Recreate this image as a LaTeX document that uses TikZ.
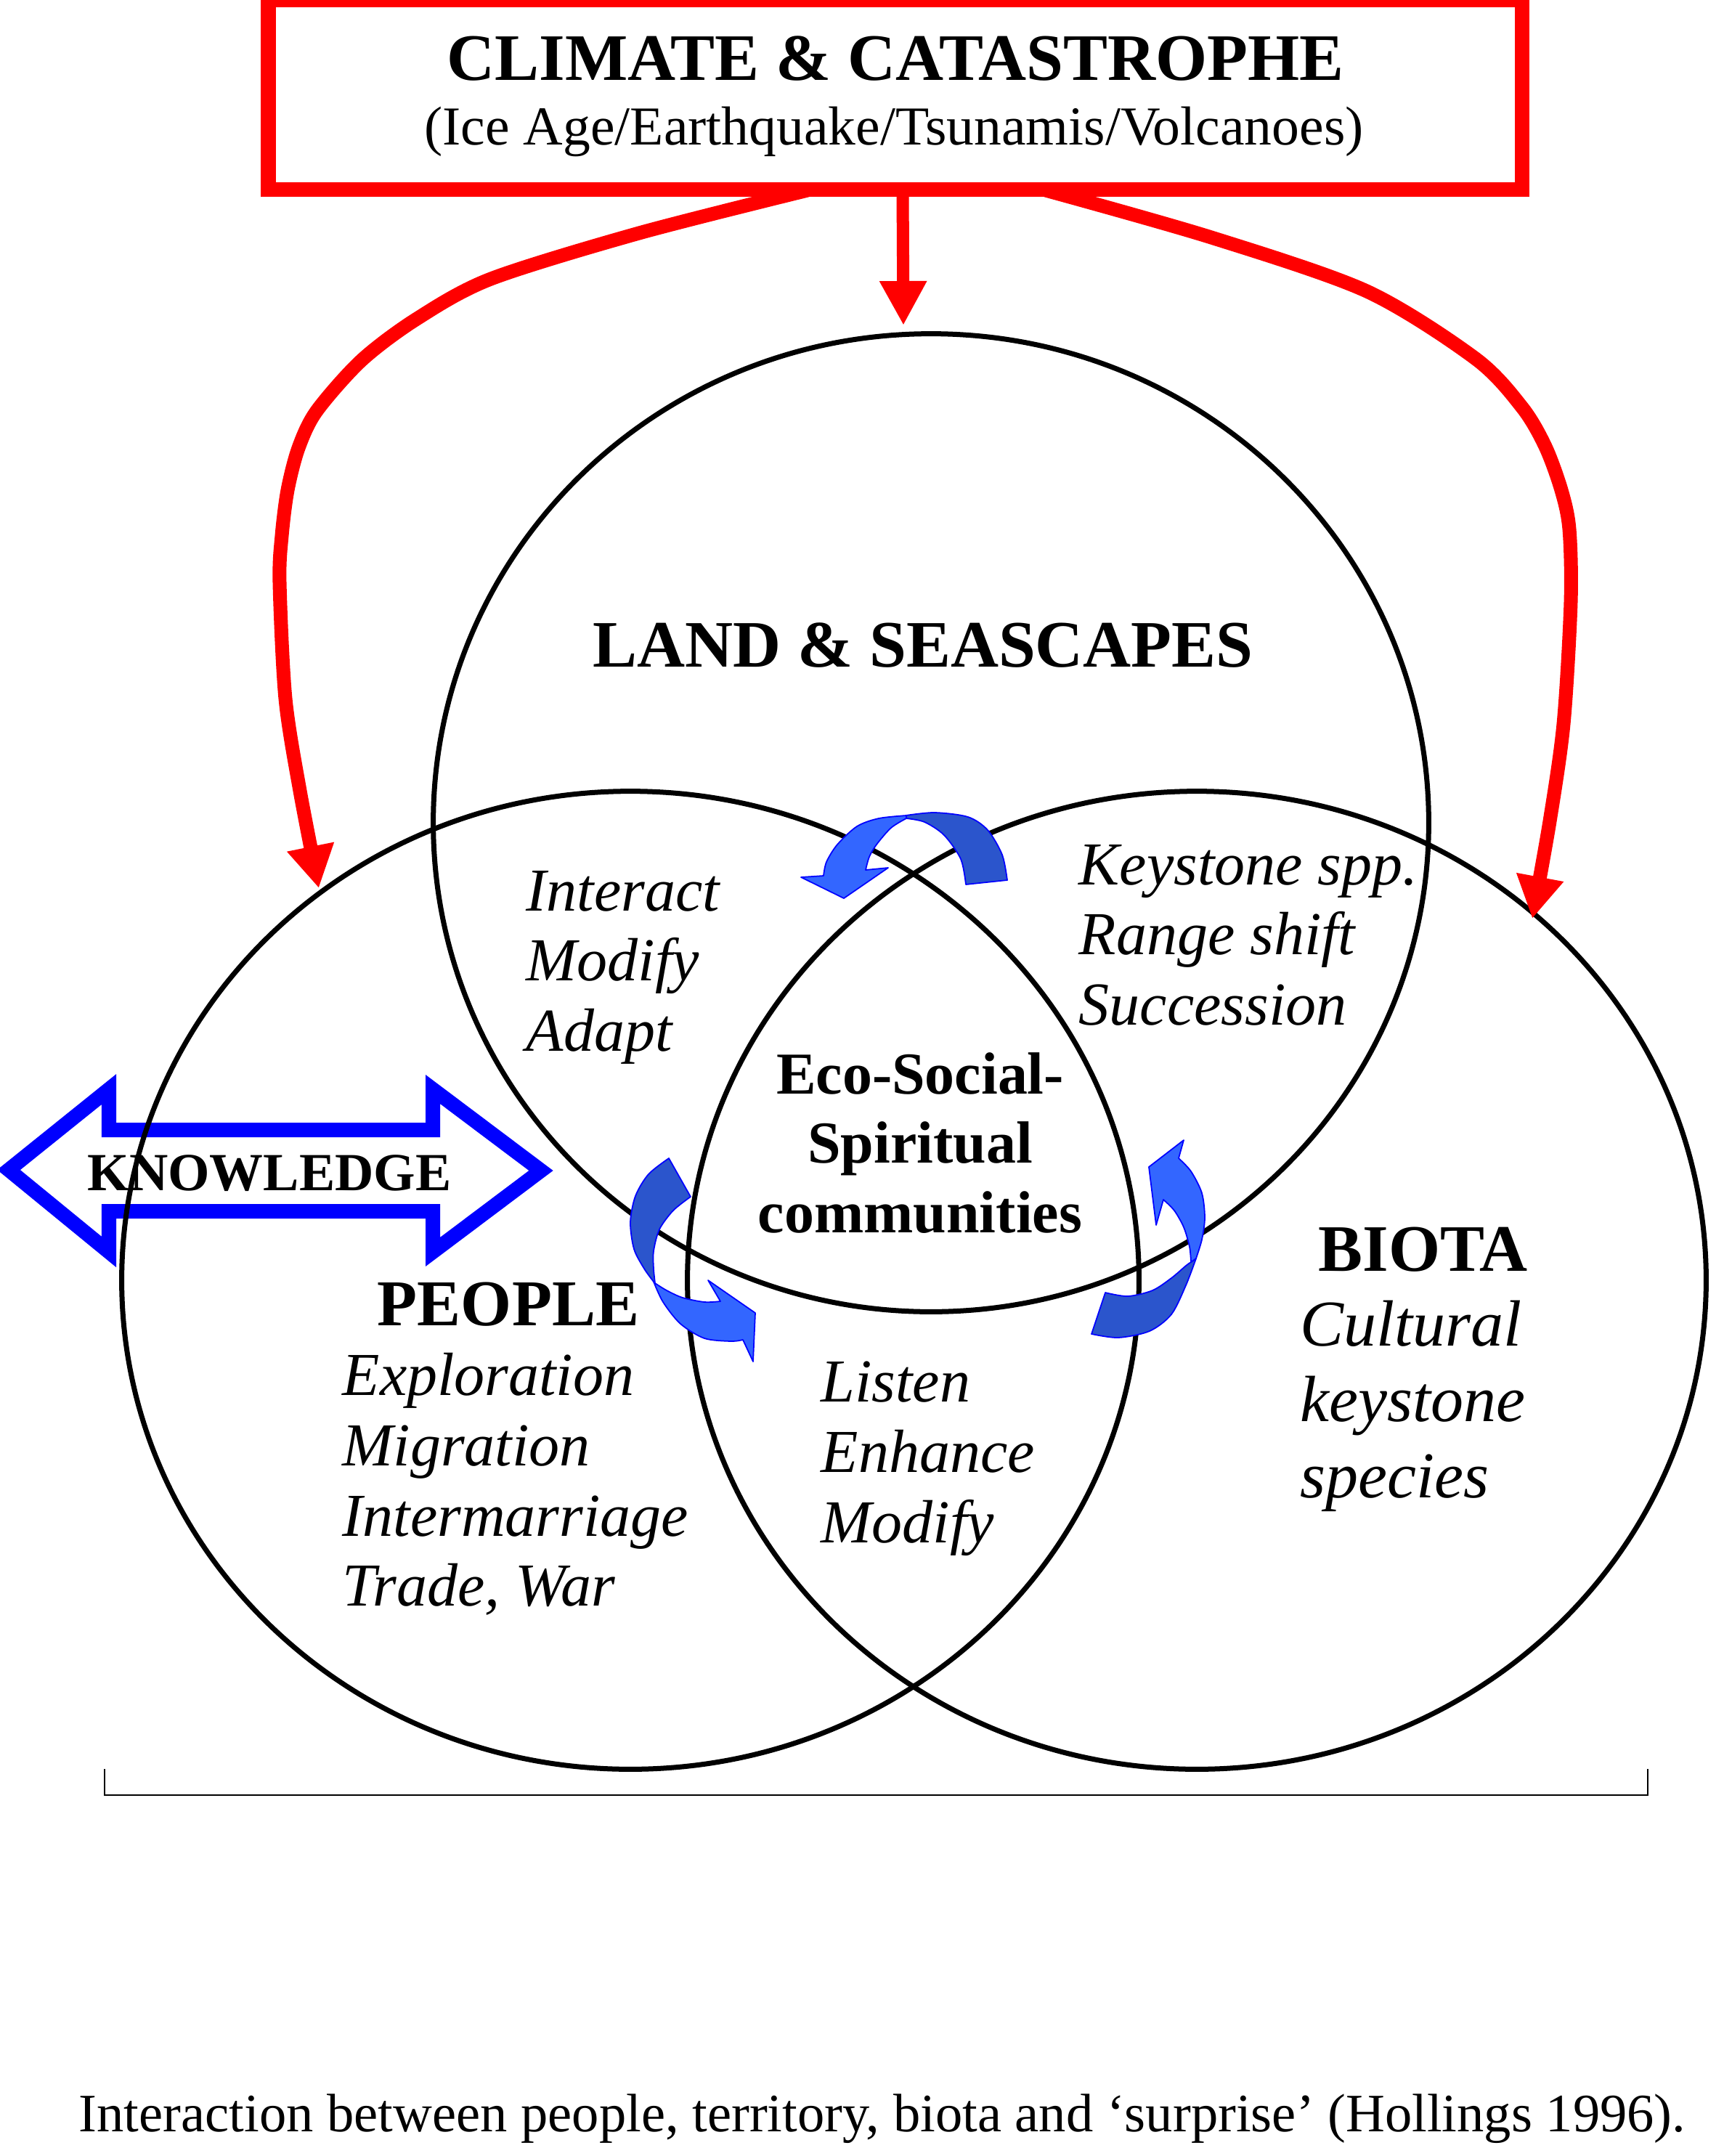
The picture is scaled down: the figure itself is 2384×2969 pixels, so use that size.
\documentclass[tikz,border=0pt]{standalone}
\usepackage{fontspec}
\setmainfont{Liberation Serif}
\usetikzlibrary{arrows.meta,shapes.geometric}
\definecolor{rd}{HTML}{FF0000}
\definecolor{bl}{HTML}{0000FF}
\definecolor{bllight}{HTML}{3366FF}
\definecolor{bldark}{HTML}{2B55CC}
\begin{document}
\begin{tikzpicture}[x=0.01cm,y=-0.01cm,
  ring/.style={draw=black, line width=0.7mm, ellipse, inner sep=0pt, outer sep=0pt},
  redline/.style={draw=rd, line width=1.9mm, -{Triangle[length=5.8mm,width=6.2mm]}},
  bluedark/.style={fill=bldark, draw=bl, line width=0.5pt, line join=round},
  bluelight/.style={fill=bllight, draw=bl, line width=0.5pt, line join=round},
  txt/.style={inner sep=0pt, anchor=base},
  ltxt/.style={inner sep=0pt, anchor=base west},
  hbold/.style={font=\fontsize{26pt}{30pt}\selectfont\bfseries},
  mbold/.style={font=\fontsize{23.3pt}{27pt}\selectfont\bfseries},
  itl/.style={font=\fontsize{23.9pt}{28pt}\selectfont\itshape},
  bitl/.style={font=\fontsize{25.6pt}{30pt}\selectfont\itshape}
]
\useasboundingbox (0,0) rectangle (2384,2969);
\fill[white] (0,0) rectangle (2384,2969);

% knowledge double arrow
\draw[draw=bl, line width=2mm, line join=miter, miter limit=10]
  (12,1611) -- (150,1500) -- (150,1556) -- (596,1556) -- (596,1500) -- (745,1612)
  -- (596,1724) -- (596,1668) -- (150,1668) -- (150,1724) -- cycle;

% circles
\node[ring, minimum width=13.70cm, minimum height=13.46cm] (land) at (1282,1133) {};
\node[ring, minimum width=14.00cm, minimum height=13.46cm] (people) at (868,1763) {};
\node[ring, minimum width=14.02cm, minimum height=13.46cm] (biota) at (1648,1763) {};

% top blue curved arrow
\path[bluedark] plot[smooth] coordinates {(1247,1123) (1287,1119) (1333,1125) (1360,1143) (1380,1177) (1387,1212)}
  -- plot[smooth] coordinates {(1330,1218) (1323,1183) (1300,1150) (1273,1132) (1248,1127)} -- cycle;
\path[bluelight] plot[smooth] coordinates {(1248,1123) (1210,1127) (1180,1138) (1153,1163) (1138,1187) (1134,1206)}
  -- (1103,1208) -- (1162,1237) -- (1223,1195)
  -- plot[smooth] coordinates {(1192,1198) (1197,1180) (1207,1163) (1227,1140) (1248,1127)} -- cycle;

% right blue curved arrow
\path[bluedark] plot[smooth] coordinates {(1503,1837) (1540,1842) (1583,1833) (1613,1810) (1633,1770) (1647,1733)}
  -- plot[smooth] coordinates {(1640,1738) (1633,1743) (1613,1760) (1587,1777) (1553,1785) (1522,1780)} -- cycle;
\path[bluelight] plot[smooth] coordinates {(1647,1733) (1655,1707) (1659,1677) (1655,1643) (1640,1613) (1623,1595)}
  -- (1630,1570) -- (1582,1607) -- (1592,1687)
  -- plot[smooth] coordinates {(1602,1652) (1617,1667) (1630,1690) (1638,1717) (1640,1738)} -- cycle;

% left blue curved arrow
\path[bluedark] plot[smooth] coordinates {(921,1595) (893,1617) (875,1647) (868,1683) (873,1720) (887,1747) (900,1765)}
  -- plot[smooth] coordinates {(902,1767) (900,1747) (900,1723) (908,1693) (927,1667) (951,1648)} -- cycle;
\path[bluelight] plot[smooth] coordinates {(900,1765) (913,1793) (937,1823) (970,1843) (1007,1847) (1023,1845)}
  -- (1037,1875) -- (1040,1808) -- (975,1763)
  -- plot[smooth] coordinates {(992,1792) (970,1793) (940,1787) (918,1777) (902,1767)} -- cycle;

% red arrows
\coordinate (la0) at (1112,262);
\coordinate (la1) at (439,1223);
\coordinate (ra0) at (1440,262);
\coordinate (ra1) at (2110,1265);
\coordinate (ca0) at (1243,262);
\coordinate (ca1) at (1244,448);
\draw[redline] plot[smooth] coordinates {(la0) (880,321) (676,384) (574,439) (498,496) (436,566) (411,617) (396,675) (388,738) (385,802) (393,962) (413,1089) (la1)};
\draw[redline] plot[smooth] coordinates {(ra0) (1668,327) (1882,401) (2032,494) (2096,561) (2128,615) (2150,675) (2161,729) (2163,829) (2153,997) (2134,1131) (ra1)};
\draw[draw=rd, line width=1.7mm, -{Triangle[length=6.1mm,width=6.1mm]}] (ca0) -- (ca1);

% climate box
\node[draw=rd, line width=2mm, fill=white, minimum width=17.25cm, minimum height=2.61cm, inner sep=0pt] (climate) at (1232.5,130.5) {};
\node[txt, hbold] (t1) at (1233,110) {CLIMATE \& CATASTROPHE};
\node[txt, font=\fontsize{21.5pt}{25pt}\selectfont] (t2) at (1231,199) {(Ice Age/Earthquake/Tsunamis/Volcanoes)};

% labels
\node[txt, hbold] (landlbl) at (1271,918) {LAND \& SEASCAPES};
\node[txt, mbold] (eco1) at (1267,1506) {Eco-Social-};
\node[txt, mbold] (eco2) at (1267,1601) {Spiritual};
\node[txt, mbold] (eco3) at (1267,1697) {communities};
\node[txt, font=\fontsize{21pt}{25pt}\selectfont\bfseries] (know) at (371,1639) {KNOWLEDGE};
\node[txt, font=\fontsize{25.6pt}{30pt}\selectfont\bfseries] (peoplelbl) at (700,1825) {PEOPLE};
\node[ltxt, hbold] (biotalbl) at (1815,1750) {BIOTA};

\node[ltxt, itl] (i1) at (724,1254) {Interact};
\node[ltxt, itl] (i2) at (724,1350) {Modify};
\node[ltxt, itl] (i3) at (724,1447) {Adapt};

\node[ltxt, itl] (k1) at (1485,1218) {Keystone spp.};
\node[ltxt, itl] (k2) at (1485,1314) {Range shift};
\node[ltxt, itl] (k3) at (1485,1411) {Succession};

\node[ltxt, itl] (e1) at (471,1921) {Exploration};
\node[ltxt, itl] (e2) at (471,2018) {Migration};
\node[ltxt, itl] (e3) at (471,2115) {Intermarriage};
\node[ltxt, itl] (e4) at (471,2211) {Trade, War};

\node[ltxt, itl] (l1) at (1130,1930) {Listen};
\node[ltxt, itl] (l2) at (1130,2027) {Enhance};
\node[ltxt, itl] (l3) at (1130,2124) {Modify};

\node[ltxt, bitl] (c1) at (1790,1853) {Cultural};
\node[ltxt, bitl] (c2) at (1790,1957) {keystone};
\node[ltxt, bitl] (c3) at (1790,2062) {species};

% bracket
\coordinate (bk1) at (144,2436);
\coordinate (bk2) at (144,2472);
\coordinate (bk3) at (2269,2472);
\coordinate (bk4) at (2269,2436);
\draw[line width=0.2mm] (bk1) -- (bk2) -- (bk3) -- (bk4);

% caption
\node[ltxt, font=\fontsize{21.2pt}{25pt}\selectfont] (caption) at (108,2935) {Interaction between people, territory, biota and ‘surprise’ (Hollings 1996).};
\end{tikzpicture}
\end{document}
